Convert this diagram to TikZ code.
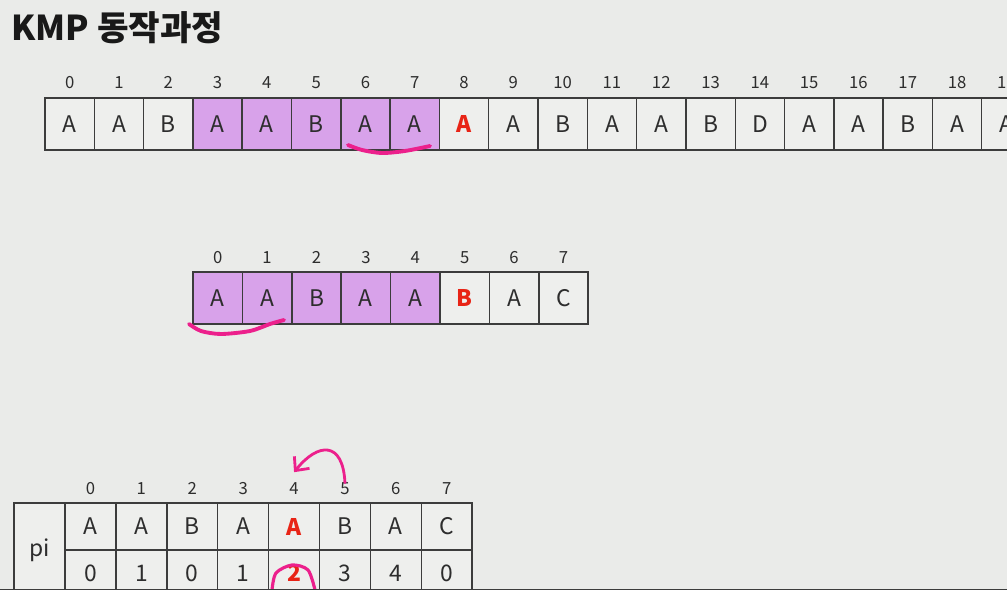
\documentclass[tikz,border=0pt]{standalone}
\usepackage{fontspec}
\setmainfont{Noto Sans CJK KR}
\usetikzlibrary{arrows.meta}

\definecolor{bgGray}{RGB}{234,235,233}
\definecolor{cellGray}{RGB}{238,239,237}
\definecolor{lineGray}{RGB}{60,60,60}
\definecolor{textGray}{RGB}{45,45,45}
\definecolor{hitPurple}{RGB}{216,162,234}
\definecolor{missRed}{RGB}{232,36,22}
\definecolor{penPink}{RGB}{236,32,140}

\tikzset{
  cell/.style={draw=lineGray, line width=0.8pt, fill=cellGray, inner sep=0pt,
    minimum width=0.986cm, minimum height=1.04cm, text=textGray,
    font=\fontsize{13}{15}\selectfont},
  hit/.style={cell, fill=hitPurple},
  miss/.style={cell, text=missRed, font=\fontsize{13}{15}\selectfont\bfseries},
  tcell/.style={cell, minimum width=1.018cm, minimum height=0.94cm},
  tmiss/.style={tcell, text=missRed, font=\fontsize{13}{15}\selectfont\bfseries},
  idx/.style={inner sep=0pt, anchor=base, text=textGray, font=\fontsize{9.5}{11}\selectfont},
  pen/.style={draw=penPink, line width=2.2pt, line cap=round, line join=round},
}

\begin{document}
\begin{tikzpicture}[x=0.02cm, y=-0.02cm]

    \fill[bgGray] (0,0) rectangle (1007,590);
    \useasboundingbox (0,0) rectangle (1007,590);

    % Title
    \node[anchor=west, inner sep=0pt, text=black!90,
      font=\fontsize{19.5}{22}\selectfont\bfseries] (title) at (11,28) {KMP 동작과정};

    %%%%%%%%%%%%%%%%%%
    %%%%% Text   %%%%%
    %%%%%%%%%%%%%%%%%%
    \foreach \ch/\st [count=\i from 0] in {A/cell,A/cell,B/cell,A/hit,A/hit,B/hit,A/hit,A/hit,
      A/miss,A/cell,B/cell,A/cell,A/cell,B/cell,D/cell,A/cell,A/cell,B/cell,A/cell,A/cell}
    {
      \node[\st] (t\i) at ({69.65+49.3*\i},124) {\ch};
      \node[idx] (ti\i) at ({69.65+49.3*\i},89) {\i};
    }

    % underline of the matched suffix
    \draw[pen] plot[smooth] coordinates {(348,145) (362,150) (382,153) (405,151) (430,146)};

    %%%%%%%%%%%%%%%%%%
    %%%%% Pattern %%%%
    %%%%%%%%%%%%%%%%%%
    \foreach \ch/\st [count=\i from 0] in {A/hit,A/hit,B/hit,A/hit,A/hit,B/miss,A/cell,C/cell}
    {
      \node[\st] (m\i) at ({217.7+49.4*\i},298) {\ch};
      \node[idx] (mi\i) at ({217.7+49.4*\i},264) {\i};
    }

    % underline of the matched prefix
    \draw[pen] plot[smooth] coordinates {(189,324) (201,331) (221,334) (250,331) (270,324) (284,320)};

    %%%%%%%%%%%%%%%%%%
    %%%%% pi table %%%
    %%%%%%%%%%%%%%%%%%
    \node[cell, minimum width=1.02cm, minimum height=1.88cm] (pi) at (39.5,550) {pi};

    \foreach \ch/\num/\st [count=\i from 0] in {A/0/tcell,A/1/tcell,B/0/tcell,A/1/tcell,
      A/2/tmiss,B/3/tcell,A/4/tcell,C/0/tcell}
    {
      \node[\st] (p\i) at ({90.45+50.9*\i},526.5) {\ch};
      \node[\st] (q\i) at ({90.45+50.9*\i},573.5) {\num};
      \node[idx] (pi\i) at ({90.45+50.9*\i},495) {\i};
    }

    % jump back from 5 to 4
    \draw[pen, line width=1.6pt, -{Straight Barb[length=6pt,width=11pt]}]
      (pi5.north) .. controls +(-2,-42) and +(24,-30) .. ([yshift=6pt]pi4.north);

    % circle round the value 2
    \draw[pen, line width=1.8pt] plot[smooth] coordinates {(272,590) (276,573) (292,565) (308,570) (315,590)};

    % lower edge
    \draw[lineGray, line width=1pt] (0,589.5) -- (1007,589.5);

\end{tikzpicture}
\end{document}
